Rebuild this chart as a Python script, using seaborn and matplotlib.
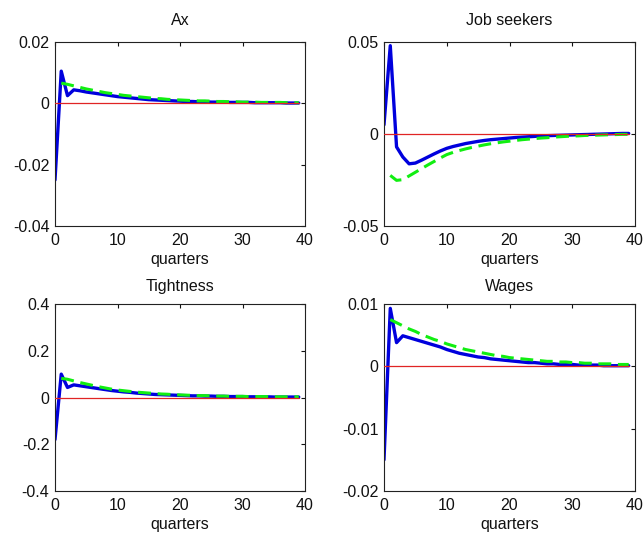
import numpy as np
import pandas as pd
import matplotlib
matplotlib.use("Agg")
import matplotlib.pyplot as plt
import seaborn as sns
from matplotlib.ticker import FuncFormatter

# Impulse responses over 40 quarters
quarters = list(range(40))
panel_titles = ["Ax", "Job seekers", "Tightness", "Wages"]

ax_model = [-0.025, 0.0105, 0.0025, 0.0044, 0.0041, 0.0037, 0.0034, 0.0031, 0.0028, 0.0025,
            0.0022, 0.0020, 0.0018, 0.0016, 0.0014, 0.0012, 0.0011, 0.0010, 0.0009, 0.0008,
            0.0007, 0.0006, 0.0006, 0.0005, 0.0005, 0.0004, 0.0004, 0.0004, 0.0003, 0.0003,
            0.0003, 0.0003, 0.0002, 0.0002, 0.0002, 0.0002, 0.0002, 0.0001, 0.0001, 0.0001]
ax_alt = [np.nan, 0.0066, 0.0062, 0.0057, 0.0052, 0.0047, 0.0043, 0.0039, 0.0035, 0.0032,
          0.0029, 0.0026, 0.0024, 0.0022, 0.0020, 0.0018, 0.0016, 0.0015, 0.0013, 0.0012,
          0.0011, 0.0010, 0.0009, 0.0008, 0.0008, 0.0007, 0.0006, 0.0006, 0.0005, 0.0005,
          0.0004, 0.0004, 0.0004, 0.0003, 0.0003, 0.0003, 0.0003, 0.0002, 0.0002, 0.0002]

seekers_model = [0.005, 0.048, -0.007, -0.0125, -0.0162, -0.0158, -0.0142, -0.0125, -0.0108, -0.0092,
                 -0.0078, -0.0068, -0.0060, -0.0052, -0.0046, -0.0040, -0.0035, -0.0031, -0.0028, -0.0025,
                 -0.0022, -0.0019, -0.0017, -0.0015, -0.0013, -0.0011, -0.0009, -0.0008, -0.0007, -0.0006,
                 -0.0005, -0.0004, -0.0003, -0.0002, -0.0001, 0.0, 0.0001, 0.0002, 0.0003, 0.0003]
seekers_alt = [np.nan, -0.0225, -0.0252, -0.0248, -0.0228, -0.0208, -0.0188, -0.0168, -0.0149, -0.0130,
               -0.0112, -0.0100, -0.0090, -0.0081, -0.0073, -0.0066, -0.0059, -0.0053, -0.0048, -0.0043,
               -0.0039, -0.0035, -0.0031, -0.0028, -0.0025, -0.0022, -0.0020, -0.0017, -0.0015, -0.0013,
               -0.0011, -0.0010, -0.0008, -0.0007, -0.0006, -0.0005, -0.0004, -0.0003, -0.0002, -0.0002]

tight_model = [-0.18, 0.10, 0.043, 0.054, 0.050, 0.046, 0.042, 0.038, 0.034, 0.030,
               0.027, 0.024, 0.022, 0.019, 0.017, 0.015, 0.013, 0.012, 0.011, 0.010,
               0.009, 0.008, 0.007, 0.007, 0.006, 0.006, 0.005, 0.005, 0.004, 0.004,
               0.004, 0.003, 0.003, 0.003, 0.003, 0.002, 0.002, 0.002, 0.002, 0.002]
tight_alt = [np.nan, 0.082, 0.078, 0.071, 0.064, 0.058, 0.052, 0.046, 0.041, 0.036,
             0.032, 0.029, 0.026, 0.023, 0.021, 0.019, 0.017, 0.015, 0.014, 0.012,
             0.011, 0.010, 0.009, 0.008, 0.008, 0.007, 0.006, 0.006, 0.005, 0.005,
             0.005, 0.004, 0.004, 0.004, 0.004, 0.003, 0.003, 0.003, 0.003, 0.003]

wage_model = [-0.015, 0.0093, 0.0038, 0.0049, 0.0046, 0.0043, 0.0040, 0.0037, 0.0034, 0.0031,
              0.0027, 0.0024, 0.0021, 0.0019, 0.0017, 0.0015, 0.0014, 0.0012, 0.0011, 0.0010,
              0.0009, 0.0008, 0.0007, 0.0006, 0.0006, 0.0005, 0.0004, 0.0004, 0.0003, 0.0003,
              0.0003, 0.0002, 0.0002, 0.0002, 0.0002, 0.0001, 0.0001, 0.0001, 0.0001, 0.0001]
wage_alt = [np.nan, 0.0075, 0.0070, 0.0065, 0.0060, 0.0056, 0.0051, 0.0047, 0.0043, 0.0040,
            0.0036, 0.0033, 0.0030, 0.0027, 0.0025, 0.0023, 0.0021, 0.0019, 0.0017, 0.0016,
            0.0014, 0.0013, 0.0012, 0.0011, 0.0010, 0.0009, 0.0008, 0.0008, 0.0007, 0.0007,
            0.0006, 0.0006, 0.0005, 0.0005, 0.0004, 0.0004, 0.0004, 0.0003, 0.0003, 0.0003]

zero_line = [0.0] * 40

ax_yticks = [-0.04, -0.02, 0, 0.02]
seekers_yticks = [-0.05, 0, 0.05]
tight_yticks = [-0.4, -0.2, 0, 0.2, 0.4]
wage_yticks = [-0.02, -0.01, 0, 0.01]
x_ticks = [0, 10, 20, 30, 40]

sns.set_style("white")
plt.rcParams["font.family"] = ["Liberation Sans", "DejaVu Sans"]
plt.rcParams["axes.unicode_minus"] = False

panels = [
    (ax_model, ax_alt, ax_yticks),
    (seekers_model, seekers_alt, seekers_yticks),
    (tight_model, tight_alt, tight_yticks),
    (wage_model, wage_alt, wage_yticks),
]

W, H = 644, 538
fig = plt.figure(figsize=(W / 100, H / 100), dpi=100)

# axes boxes in pixels: left, top, right, bottom, title pad
boxes = [(55, 42, 305, 226, 12), (384, 42, 635, 226, 12),
         (55, 304, 305, 491, 9), (384, 304, 635, 491, 9)]

fmt = FuncFormatter(lambda v, p: "%g" % v)
FS = 11.5

for (model, alt, yt), title, (l, t, r, b, tpad) in zip(panels, panel_titles, boxes):
    ax = fig.add_axes([l / W, 1 - b / H, (r - l) / W, (b - t) / H])
    df = pd.DataFrame({"quarter": quarters, "model": model, "alt": alt, "zero": zero_line})
    sns.lineplot(data=df, x="quarter", y="model", ax=ax, color="#0000DD",
                 linewidth=2.4, zorder=2)
    sns.lineplot(data=df.dropna(), x="quarter", y="alt", ax=ax, color="#11EE11",
                 linewidth=2.2, linestyle=(0, (4.2, 2.2)), zorder=3)
    sns.lineplot(data=df, x="quarter", y="zero", ax=ax, color="#E02424",
                 linewidth=0.9, zorder=4)
    ax.set_xlim(0, 40)
    ax.set_ylim(yt[0], yt[-1])
    ax.set_xticks(x_ticks)
    ax.set_yticks(yt)
    ax.yaxis.set_major_formatter(fmt)
    ax.tick_params(direction="in", length=3, width=0.8, top=True, right=True,
                   labelsize=FS, colors="#111111")
    ax.tick_params(axis="x", pad=5)
    ax.tick_params(axis="y", pad=4)
    for s in ax.spines.values():
        s.set_color("#222222")
        s.set_linewidth(0.8)
    ax.set_title(title, fontsize=FS, pad=tpad, color="#111111")
    ax.set_xlabel("quarters", fontsize=FS, labelpad=3, color="#111111")
    ax.set_ylabel("")
    ax.grid(False)

fig.savefig("out.png", dpi=100)
